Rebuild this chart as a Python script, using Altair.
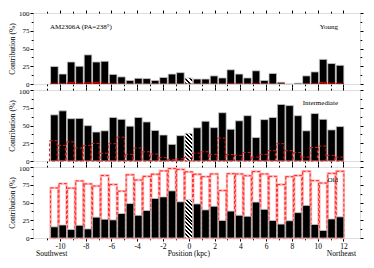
import math
import altair as alt
import pandas as pd

# ---------------- data ----------------
positions = [-10.43, -9.78, -9.13, -8.48, -7.82, -7.17, -6.52, -5.87, -5.22, -4.56,
             -3.91, -3.26, -2.61, -1.96, -1.30, -0.65, 0.0, 0.65, 1.30, 1.96,
             2.61, 3.26, 3.91, 4.56, 5.22, 5.87, 6.52, 7.17, 7.82, 8.48,
             9.13, 9.78, 10.43, 11.08, 11.74]

young_black = [24.6, 14, 31, 25, 41, 31, 32, 13.5, 10, 5, 8, 7.6, 5, 9.3, 14, 16,
               8.5, 7, 7, 11.4, 8.5, 20, 14, 8.5, 18.6, 5, 14.8, 2.5, 0, 1.3, 11.4,
               17, 34.7, 28.8, 26.3]
young_red = [1.5, 1, 3, 1.5, 2.5, 3, 1.5, 1, 0.5, 0.5, 0.5, 0.5, 0.5, 0.5, 0.5, 0.5,
             0.5, 0.5, 0.5, 0.5, 0.5, 1, 0.5, 0.5, 1.5, 0.5, 0.5, 0.5, 0, 0, 0.5,
             1, 3, 2, 1.5]

inter_black = [65, 70.6, 59.6, 60, 49.8, 40.8, 42.5, 61.3, 58.7, 49, 61.3, 55, 43,
               36.6, 23.4, 35.7, 39, 46.8, 56, 47, 68, 44.7, 56.6, 63.8, 33, 58.3,
               61.3, 79.6, 78, 63.8, 42.5, 66.8, 58.7, 43.8, 48.5]
inter_red = [28.5, 22, 27, 18.3, 22, 24.7, 11, 24.3, 33.6, 9.4, 18.3, 13, 9.8, 4.7,
             2, 3, 5, 11, 13, 9.4, 32.3, 9, 8, 12, 5.5, 9.4, 14.5, 24.3, 14.5, 12,
             5.5, 19, 21, 8, 5.5]

old_black = [15.7, 18.3, 12, 17.9, 12.8, 29.4, 26.4, 25.5, 34.5, 48.5, 32, 38.7,
             55.7, 57.9, 66.4, 51, 54, 48, 39.6, 44.7, 24.7, 37.9, 32, 30.6, 50.6,
             40.4, 24.7, 19.6, 24.3, 35.7, 45.9, 19, 10.6, 26.8, 29.8]
old_red = [70.6, 76.6, 70.2, 80.4, 76.2, 73.2, 88, 75.3, 66, 89, 81.7, 86.8, 89.8,
           94.5, 97.9, 96.6, 93.2, 89.8, 86.4, 90.2, 66.8, 90.6, 90.2, 87.7, 93.6,
           90.2, 86.8, 75.3, 86.4, 88, 94, 80.8, 77.4, 91, 94]

x_ticks = [-11, -10, -9, -8, -7, -6, -5, -4, -3, -2, -1, 0, 1, 2, 3, 4, 5, 6,
           7, 8, 9, 10, 11, 12]
y_ticks = [0, 12.5, 25, 37.5, 50, 62.5, 75, 87.5, 100]

# ---------------- styling ----------------
W, H = 327, 71
BW = 7.6
FONT = "Liberation Serif"
FS = 7.5
xs = alt.Scale(domain=[-11.7, 12.9], nice=False, zero=False)
ys = alt.Scale(domain=[0, 100], nice=False)


def ax(orient, values, major_test, labels=False, title=None, fs=FS, top_fix=False):
    kw = dict(orient=orient, values=values, labels=labels,
              tickSize={"condition": {"test": major_test, "value": 3}, "value": 1.8},
              domain=False, grid=False, labelFont=FONT, labelFontSize=fs,
              labelPadding=1,
              labelExpr="(" + major_test + ") ? ('' + datum.value) : ''",
              tickColor="black", labelColor="black")
    if top_fix:
        kw.update(labelBaseline={"condition": {"test": "datum.value == 100", "value": "top"},
                                 "value": "middle"},
                  labelOffset={"condition": {"test": "datum.value == 100", "value": -2.2},
                               "value": 0})
    if title:
        kw.update(title=title, titleFont=FONT, titleFontSize=FS,
                  titleFontWeight="normal", titlePadding=2, titleColor="black")
    else:
        kw.update(title=None)
    return alt.Axis(**kw)


XM = "datum.value % 2 == 0"
YM = "datum.value % 25 == 0"


def hatch(val):
    h = val / 100 * H
    w = BW
    k = (w + h) / (w * w + h * h)
    n = max(2, round((w + h) / (math.sqrt(2) * 2.8)))
    stops = []
    for i in range(n):
        stops += [
            {"offset": i / n, "color": "black"},
            {"offset": (i + 0.5) / n, "color": "black"},
            {"offset": (i + 0.5) / n, "color": "white"},
            {"offset": (i + 1) / n, "color": "white"},
        ]
    return {"gradient": "linear", "x1": 0, "y1": 1, "x2": k * w, "y2": 1 - k * h,
            "stops": stops}


def txt(s, x, y, align="left", size=7):
    return alt.Chart(pd.DataFrame({"t": [s]})).mark_text(
        font=FONT, fontSize=size, align=align, baseline="middle", color="black"
    ).encode(x=alt.value(x), y=alt.value(y), text="t:N")


def panel(black, red, kind, bottom=False):
    df = pd.DataFrame({"pos": positions, "black": black, "red": red})
    base = alt.Chart(df)
    bx = ax("bottom", x_ticks, XM, labels=bottom)
    tx = ax("top", x_ticks, XM)
    ly = ax("left", y_ticks, YM, labels=True, title="Contribution (%)", fs=7,
            top_fix=(kind != "young"))
    ry = ax("right", y_ticks, YM)

    black_layer = base.transform_filter("datum.pos != 0").mark_bar(
        width=BW, fill="black", stroke="#c8c8c8", strokeWidth=0.8
    ).encode(x=alt.X("pos:Q", scale=xs, axis=bx),
             y=alt.Y("black:Q", scale=ys, axis=ly), y2=alt.datum(0))

    center_val = black[positions.index(0.0)]
    hatch_layer = base.transform_filter("datum.pos == 0").mark_bar(
        width=BW, fill=hatch(center_val), stroke="#c8c8c8", strokeWidth=0.8
    ).encode(x=alt.X("pos:Q", scale=xs, axis=tx),
             y=alt.Y("black:Q", scale=ys, axis=ry), y2=alt.datum(0))

    X = alt.X("pos:Q", scale=xs, axis=None)
    Yr = alt.Y("red:Q", scale=ys, axis=None)
    if kind == "young":
        red_layer = base.mark_bar(width=BW, fill="#b00000", strokeOpacity=0).encode(
            x=X, y=Yr, y2=alt.datum(0))
        layers = [black_layer, hatch_layer, red_layer,
                  txt("AM2306A (PA=238°)", 17, 14),
                  txt("Young", W - 22, 14, align="right")]
    elif kind == "inter":
        red_layer = base.mark_bar(width=BW, xOffset=-1, fillOpacity=0,
                                  stroke="#e01818", strokeWidth=1,
                                  strokeDash=[3, 2]).encode(x=X, y=Yr, y2=alt.datum(0))
        layers = [black_layer, hatch_layer, red_layer,
                  txt("Intermediate", W - 22, 13, align="right")]
    else:
        halo = base.mark_bar(width=BW, fillOpacity=0, stroke="#ffb4b4",
                             strokeWidth=2.4).encode(x=X, y=Yr, y2=alt.datum(0))
        red_layer = base.mark_bar(width=BW, fillOpacity=0, stroke="#ff2a2a",
                                  strokeWidth=1, strokeDash=[3, 2]).encode(
            x=X, y=Yr, y2=alt.datum(0))
        layers = [halo, red_layer, black_layer, hatch_layer,
                  txt("Old", W - 22, 13, align="right")]
    if bottom:
        pos_lab = alt.Chart(pd.DataFrame({"t": ["Position (kpc)"], "x": [0]})).mark_text(
            font=FONT, fontSize=FS, align="center", baseline="middle", color="black"
        ).encode(x=alt.X("x:Q", scale=xs, axis=None), y=alt.value(H + 16), text="t:N")
        layers += [pos_lab,
                   txt("Southwest", 3, H + 16, size=FS),
                   txt("Northeast", W - 4, H + 16, align="right", size=FS)]
    return alt.layer(*layers).resolve_axis(x="independent", y="independent").properties(
        width=W, height=H)


chart = alt.vconcat(
    panel(young_black, young_red, "young"),
    panel(inter_black, inter_red, "inter"),
    panel(old_black, old_red, "old", bottom=True),
    spacing=6, bounds="flush",
).configure_view(stroke="black", strokeWidth=1).configure(
    padding=0, background="white", font=FONT)

chart.save("out.html", embed_options={"renderer": "svg", "actions": False})
